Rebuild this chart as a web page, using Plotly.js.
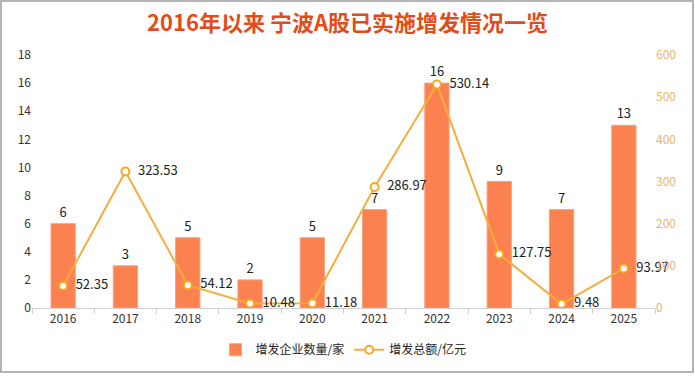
<!DOCTYPE html>
<html>
<head>
<meta charset="utf-8">
<script src="https://cdn.plot.ly/plotly-3.0.1.min.js"></script>
<style>
html,body{margin:0;padding:0;background:#fff;}
#frame{position:absolute;left:0;top:0;width:690px;height:369px;border:2px solid #b4b4b4;}
#chart{position:absolute;left:0;top:0;width:695px;height:382px;}
</style>
</head>
<body>
<div id="chart"></div>
<div id="frame"></div>
<script>
const years = ['2016','2017','2018','2019','2020','2021','2022','2023','2024','2025'];
const companyCounts = [6, 3, 5, 2, 5, 7, 16, 9, 7, 13];
const amounts = [52.35, 323.53, 54.12, 10.48, 11.18, 286.97, 530.14, 127.75, 9.48, 93.97];
const leftTicks = [0,2,4,6,8,10,12,14,16,18];
const rightTicks = [0,100,200,300,400,500,600];

const font = "'Noto Sans CJK SC', 'Microsoft YaHei', sans-serif";

const bars = {
  type: 'bar',
  name: '增发企业数量/家',
  x: years,
  y: companyCounts,
  text: companyCounts.map(String),
  textposition: 'outside',
  cliponaxis: false,
  textfont: {color: '#222', size: 13, family: font},
  marker: {color: '#FB8150', line: {color: '#F9A27E', width: 1}},
  width: 0.39,
  yaxis: 'y'
};

const line = {
  type: 'scatter',
  mode: 'lines+markers+text',
  name: '增发总额/亿元',
  x: years,
  y: amounts,
  text: amounts.map(v => '\u2002' + v.toFixed(2)),
  textposition: 'middle right',
  cliponaxis: false,
  textfont: {color: '#222', size: 13, family: font},
  line: {color: '#F5AE3D', width: 2},
  marker: {symbol: 'circle', size: 8, color: '#ffffff', line: {color: '#F5A623', width: 2}},
  yaxis: 'y2'
};

const layout = {
  width: 695,
  height: 382,
  margin: {l: 32, r: 40, t: 55, b: 74},
  paper_bgcolor: '#ffffff',
  plot_bgcolor: '#ffffff',
  font: {family: font, size: 12, color: '#333'},
  title: {
    text: '<b>2016年以来 宁波A股已实施增发情况一览</b>',
    font: {family: font, size: 22, color: '#E24C18'},
    x: 0.5, xanchor: 'center',
    y: 0.94, yref: 'container', yanchor: 'middle'
  },
  showlegend: true,
  legend: {
    orientation: 'h',
    x: 0.5, xanchor: 'center',
    y: -0.165, yanchor: 'middle',
    font: {family: font, size: 12, color: '#222'},
    traceorder: 'normal'
  },
  xaxis: {
    type: 'category',
    range: [-0.5, 9.5],
    automargin: false,
    showgrid: false,
    showline: true,
    linecolor: '#d0d0d0',
    linewidth: 1,
    ticks: 'outside',
    tickson: 'boundaries',
    ticklen: 5,
    tickcolor: '#d0d0d0',
    tickfont: {size: 12, color: '#333'},
    zeroline: false
  },
  yaxis: {
    range: [0, 18],
    automargin: false,
    tickvals: leftTicks,
    showgrid: false,
    zeroline: false,
    showline: false,
    tickfont: {size: 12, color: '#333'}
  },
  yaxis2: {
    range: [0, 600],
    automargin: false,
    tickvals: rightTicks,
    overlaying: 'y',
    side: 'right',
    showgrid: false,
    zeroline: false,
    showline: false,
    tickfont: {size: 12, color: '#E8B56A'}
  },
  bargap: 0.6
};

Plotly.newPlot('chart', [bars, line], layout, {displayModeBar: false, staticPlot: true});
</script>
</body>
</html>
